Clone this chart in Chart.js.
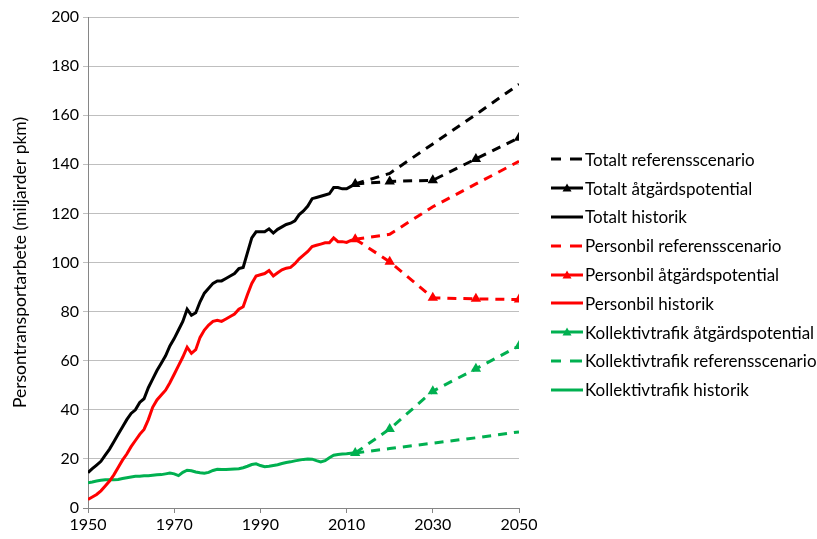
<!DOCTYPE html>
<html>
<head>
<meta charset="utf-8">
<script src="https://cdn.jsdelivr.net/npm/chart.js@4"></script>
<style>
  body { margin: 0; background: #fff; }
  #wrap { position: relative; width: 817px; height: 539px; }
  #legend { position: absolute; left: 551px; top: 145px; font-family: Lato, 'Open Sans', sans-serif; font-size: 17px; color: #000; white-space: nowrap; }
  .item { height: 28.8px; display: flex; align-items: center; }
  .item svg { margin-right: 2px; }
</style>
</head>
<body>
<div id="wrap">
  <canvas id="chart" width="817" height="539"></canvas>
  <div id="legend"></div>
</div>
<script>
// historical years 1950..2012
const histYears = [];
for (let y = 1950; y <= 2012; y++) histYears.push(y);

const totaltHistorik = [14.4, 16, 17.5, 19, 21.5, 24, 27, 30, 33, 36, 38.5, 40, 43, 44.5, 49, 52.5, 56, 59, 62, 66,
  69, 72.5, 76, 81, 78.5, 79.5, 84, 87.5, 89.5, 91.5, 92.5, 92.5, 93.5, 94.5, 95.5, 97.5, 98, 104, 110, 112.5,
  112.5, 112.5, 113.7, 112, 113.5, 114.5, 115.5, 116, 117, 119.5, 121, 123, 126, 126.5, 127, 127.5, 128, 130.5, 130.5, 130,
  130, 131, 132];
const personbilHistorik = [3.5, 4.5, 5.5, 7, 9, 11, 13.5, 16.5, 19.5, 22, 25, 27.5, 30, 32, 36, 41, 44, 46, 48, 51,
  54.5, 58, 61.5, 65.5, 63, 64.5, 69.5, 72.5, 74.5, 76, 76.5, 76, 77, 78, 79, 81, 82, 87, 91.5, 94.5,
  95, 95.5, 96.7, 94.5, 95.8, 97, 97.7, 98, 99.5, 101.5, 103, 104.5, 106.5, 107, 107.5, 108, 108, 110, 108.5, 108.5,
  108.2, 109, 109.5];
const kollektivHistorik = [10.3, 10.6, 11, 11.3, 11.5, 11.5, 11.5, 11.6, 12, 12.3, 12.6, 12.9, 12.9, 13.1, 13.1, 13.3, 13.5, 13.6, 13.9, 14.2,
  13.9, 13.2, 14.5, 15.4, 15.2, 14.7, 14.4, 14.2, 14.5, 15.3, 15.8, 15.7, 15.7, 15.8, 15.9, 16, 16.4, 17, 17.7, 18,
  17.3, 16.8, 17, 17.3, 17.6, 18.1, 18.5, 18.8, 19.2, 19.5, 19.8, 20, 19.9, 19.3, 18.8, 19.3, 20.5, 21.5, 21.8, 22,
  22.1, 22.3, 22.5];

// scenario years
const scenYears = [2012, 2020, 2030, 2040, 2050];
const totaltReferens = [132, 136.3, 148.3, 160.3, 172.6];
const totaltAtgard = [132, 133, 133.5, 142.2, 150.8];
const personbilReferens = [109.5, 111.5, 122.7, 132, 141.2];
const personbilAtgard = [109.5, 100.3, 85.6, 85.2, 84.9];
const kollektivAtgard = [22.4, 32.2, 47.6, 56.7, 66];
const kollektivReferens = [22.4, 24.2, 26.4, 28.6, 31];

const xTicks = [1950, 1970, 1990, 2010, 2030, 2050];
const yTitle = 'Persontransportarbete (miljarder pkm)';

const BLACK = '#000000', RED = '#ff0000', GREEN = '#00b050';
const DASH = [9, 7];

function pts(xs, ys) { return xs.map((x, i) => ({ x: x, y: ys[i] })); }

const series = [
  { label: 'Totalt referensscenario', data: pts(scenYears, totaltReferens), color: BLACK, kind: 'ref' },
  { label: 'Totalt åtgärdspotential', data: pts(scenYears, totaltAtgard), color: BLACK, kind: 'atg' },
  { label: 'Totalt historik', data: pts(histYears, totaltHistorik), color: BLACK, kind: 'hist' },
  { label: 'Personbil referensscenario', data: pts(scenYears, personbilReferens), color: RED, kind: 'ref' },
  { label: 'Personbil åtgärdspotential', data: pts(scenYears, personbilAtgard), color: RED, kind: 'atg' },
  { label: 'Personbil historik', data: pts(histYears, personbilHistorik), color: RED, kind: 'hist' },
  { label: 'Kollektivtrafik åtgärdspotential', data: pts(scenYears, kollektivAtgard), color: GREEN, kind: 'atg' },
  { label: 'Kollektivtrafik referensscenario', data: pts(scenYears, kollektivReferens), color: GREEN, kind: 'ref' },
  { label: 'Kollektivtrafik historik', data: pts(histYears, kollektivHistorik), color: GREEN, kind: 'hist' }
];

const datasets = series.map(s => ({
  label: s.label,
  data: s.data,
  borderColor: s.color,
  backgroundColor: s.color,
  borderWidth: 3,
  borderDash: s.kind === 'hist' ? [] : DASH,
  pointStyle: 'triangle',
  pointRadius: s.kind === 'atg' ? 6 : 0,
  pointBorderWidth: 0,
  tension: 0
}));

const FONT = 'Lato, "Open Sans", sans-serif';

new Chart(document.getElementById('chart'), {
  type: 'line',
  data: { datasets: datasets },
  options: {
    responsive: false,
    animation: false,
    layout: { padding: { left: 8, right: 298, top: 17, bottom: 0 } },
    plugins: { legend: { display: false }, tooltip: { enabled: false } },
    scales: {
      x: {
        type: 'linear',
        min: 1950, max: 2050,
        afterBuildTicks: axis => { axis.ticks = xTicks.map(v => ({ value: v })); },
        ticks: { color: '#000', font: { family: FONT, size: 16 }, padding: 2, maxRotation: 0, callback: v => String(v) },
        grid: { display: true, drawOnChartArea: false, color: '#868686', tickLength: 5 },
        border: { color: '#868686', width: 1 },
        afterFit: s => { s.height = 31; }
      },
      y: {
        min: 0, max: 200,
        ticks: { stepSize: 20, color: '#000', font: { family: FONT, size: 16 }, padding: 4 },
        grid: { color: ctx => ctx.tick.value === 0 ? '#868686' : '#bfbfbf', tickLength: 5, lineWidth: 1 },
        border: { color: '#868686', width: 1 },
        title: { display: true, text: yTitle, color: '#000', font: { family: FONT, size: 17.5 }, padding: 2 },
        afterFit: s => { s.width = 80; }
      }
    }
  }
});

// legend
const legend = document.getElementById('legend');
series.forEach(s => {
  const div = document.createElement('div');
  div.className = 'item';
  let svg = '<svg width="32" height="12" viewBox="0 0 32 12">';
  if (s.kind === 'hist') {
    svg += '<line x1="0" y1="6" x2="32" y2="6" stroke="' + s.color + '" stroke-width="3"/>';
  } else if (s.kind === 'ref') {
    svg += '<line x1="0" y1="6" x2="10" y2="6" stroke="' + s.color + '" stroke-width="3"/>';
    svg += '<line x1="19" y1="6" x2="31" y2="6" stroke="' + s.color + '" stroke-width="3"/>';
  } else {
    svg += '<line x1="0" y1="6" x2="32" y2="6" stroke="' + s.color + '" stroke-width="3"/>';
    svg += '<polygon points="16,1.5 20.5,9.5 11.5,9.5" fill="' + s.color + '"/>';
  }
  svg += '</svg>';
  div.innerHTML = svg + '<span>' + s.label + '</span>';
  legend.appendChild(div);
});
</script>
</body>
</html>
